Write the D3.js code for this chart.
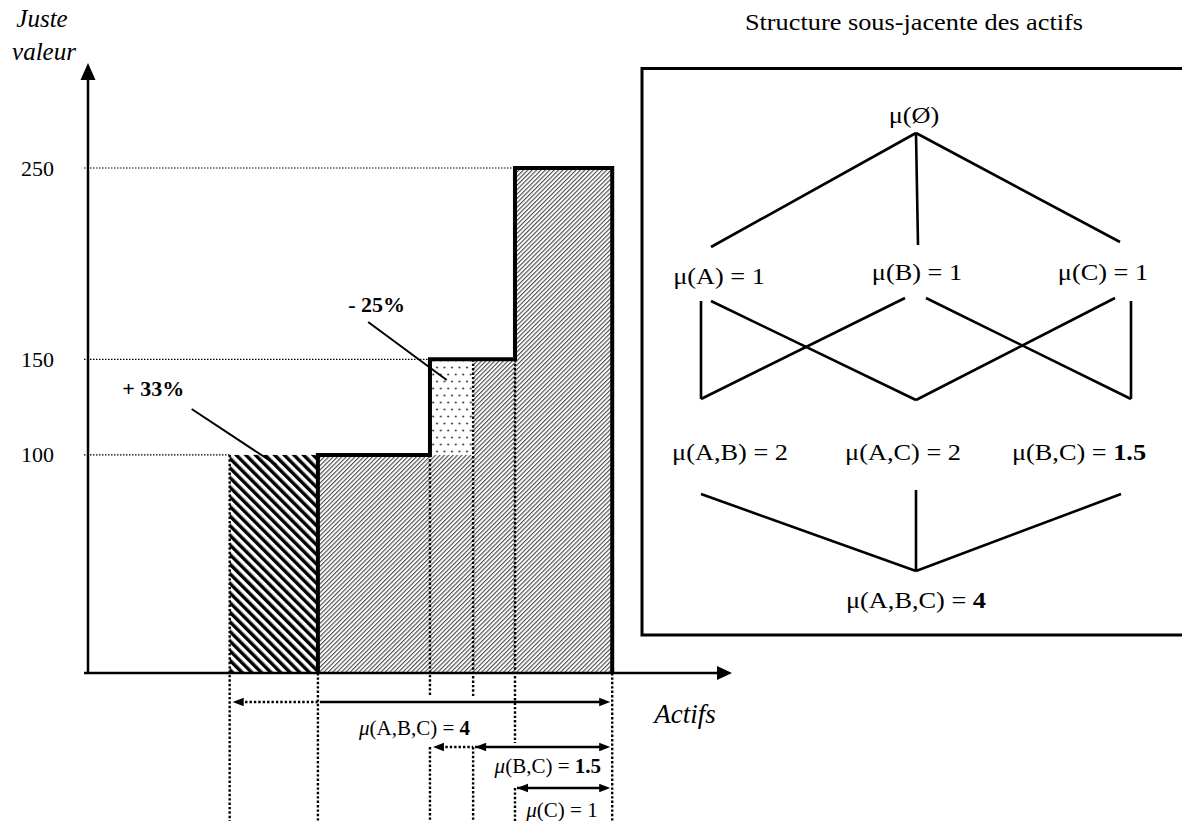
<!DOCTYPE html>
<html><head><meta charset="utf-8">
<script src="https://cdn.jsdelivr.net/npm/d3@7/dist/d3.min.js"></script>
<style>
html,body{margin:0;padding:0;background:#fff;}
svg{display:block;}
text{font-family:"Liberation Serif","Times New Roman",serif;fill:#000;}
</style></head>
<body>
<script>
// ---------- DATA ----------
const yTicks = [100, 150, 250];
// asset positions on a 0..100 abstract "Actifs" axis
const oldBar = {x0: 22, x1: 35.7, v: 100};            // before perturbation (+33%)
const steps = [                                       // fair value steps after perturbation
  {x0: 35.7, x1: 53.1, v: 100},
  {x0: 53.1, x1: 66.3, v: 150},
  {x0: 66.3, x1: 81.4, v: 250}
];
const lostBlock = {x0: 53.1, x1: 59.8, v0: 100, v1: 150}; // -25% dotted block
const guides = [{v: 100, to: 22}, {v: 150, to: 53.1}, {v: 250, to: 66.3}];
const pctLabels = [
  {text: "+ 33%", x: 5.3, v: 131, lx0: 16.1, lv0: 124, lx1: 29.3, lv1: 94.7},
  {text: "- 25%", x: 40.4, v: 174.5, lx0: 43.5, lv0: 169.5, lx1: 55.7, lv1: 139.2}
];
const measures = [
  {name: "μ", set: "(A,B,C) = ", val: "4",   bold: true,  oldFrom: 22,   from: 35.7, to: 81.4, cx: 50.7},
  {name: "μ", set: "(B,C) = ",   val: "1.5", bold: true,  oldFrom: 53.1, from: 59.8, to: 81.4, cx: 71.4},
  {name: "μ", set: "(C) = ",     val: "1",   bold: false, oldFrom: null, from: 66.3, to: 81.4, cx: 73.6}
];
const treeTitle = "Structure sous-jacente des actifs";
const treeRoot = "μ(Ø)";
const treeLevel1 = [{t: "μ(A) = ", v: "1", b: false}, {t: "μ(B) = ", v: "1", b: false}, {t: "μ(C) = ", v: "1", b: false}];
const treeLevel2 = [{t: "μ(A,B) = ", v: "2", b: false}, {t: "μ(A,C) = ", v: "2", b: false}, {t: "μ(B,C) = ", v: "1.5", b: true}];
const treeLevel3 = [{t: "μ(A,B,C) = ", v: "4", b: true}];

// ---------- SETUP ----------
const W = 1182, H = 821;
const svg = d3.select("body").append("svg").attr("width", W).attr("height", H);
const x = d3.scaleLinear().domain([0, 100]).range([88, 732]);
const y = d3.scaleLinear().domain([-14, 250]).range([673, 168]);
const y0 = y(-14);

const defs = svg.append("defs");
const pThick = defs.append("pattern").attr("id", "thick").attr("patternUnits", "userSpaceOnUse")
  .attr("width", 6.8).attr("height", 6.8).attr("patternTransform", "rotate(-45)");
pThick.append("rect").attr("width", 6.8).attr("height", 6.8).attr("fill", "#fff");
pThick.append("rect").attr("width", 3.4).attr("height", 6.8).attr("fill", "#000");
const pFine = defs.append("pattern").attr("id", "fine").attr("patternUnits", "userSpaceOnUse")
  .attr("width", 3.1).attr("height", 3.1).attr("patternTransform", "rotate(45)");
pFine.append("rect").attr("width", 3.1).attr("height", 3.1).attr("fill", "#fff");
pFine.append("rect").attr("width", 1.1).attr("height", 3.1).attr("fill", "#4a4a4a");
const pDots = defs.append("pattern").attr("id", "dots").attr("patternUnits", "userSpaceOnUse")
  .attr("width", 7.5).attr("height", 14);
pDots.append("rect").attr("width", 7.5).attr("height", 14).attr("fill", "#fff");
pDots.append("circle").attr("cx", 2).attr("cy", 3.5).attr("r", 1.1).attr("fill", "#444");
pDots.append("circle").attr("cx", 5.75).attr("cy", 10.5).attr("r", 1.1).attr("fill", "#444");

// ---------- LEFT CHART ----------
svg.append("rect").attr("x", x(oldBar.x0)).attr("y", y(oldBar.v))
  .attr("width", x(oldBar.x1) - x(oldBar.x0)).attr("height", y0 - y(oldBar.v)).attr("fill", "url(#thick)");
svg.selectAll("rect.step").data(steps).join("rect").attr("class", "step")
  .attr("x", d => x(d.x0)).attr("y", d => y(d.v))
  .attr("width", d => x(d.x1) - x(d.x0)).attr("height", d => y0 - y(d.v)).attr("fill", "url(#fine)");
svg.append("rect").attr("x", x(lostBlock.x0)).attr("y", y(lostBlock.v1))
  .attr("width", x(lostBlock.x1) - x(lostBlock.x0)).attr("height", y(lostBlock.v0) - y(lostBlock.v1))
  .attr("fill", "url(#dots)");

svg.selectAll("line.guide").data(guides).join("line").attr("class", "guide")
  .attr("x1", 84).attr("x2", d => x(d.to)).attr("y1", d => y(d.v)).attr("y2", d => y(d.v))
  .attr("stroke", "#000").attr("stroke-width", 1.2).attr("stroke-dasharray", "1.5,1.5");

const rowY = [702, 747, 788];
const vDots = [
  {xv: 22,   segs: [[y(100), H]]},
  {xv: 35.7, segs: [[y0, H]]},
  {xv: 53.1, segs: [[y(100), rowY[0] - 5], [rowY[1], H]]},
  {xv: 59.8, segs: [[y(150), rowY[0] - 5], [rowY[1], H]]},
  {xv: 66.3, segs: [[y(150), rowY[1] - 4], [rowY[2], H]]},
  {xv: 81.4, segs: [[y0, H]]}
];
vDots.forEach(d => d.segs.forEach(s => {
  svg.append("line").attr("x1", x(d.xv)).attr("x2", x(d.xv)).attr("y1", s[0]).attr("y2", s[1])
    .attr("stroke", "#000").attr("stroke-width", 2.4).attr("stroke-dasharray", "2.4,2");
}));

const stepPath = d3.path();
stepPath.moveTo(x(steps[0].x0), y0);
steps.forEach(d => { stepPath.lineTo(x(d.x0), y(d.v)); stepPath.lineTo(x(d.x1), y(d.v)); });
stepPath.lineTo(x(steps[steps.length - 1].x1), y0);
svg.append("path").attr("d", stepPath.toString()).attr("fill", "none")
  .attr("stroke", "#000").attr("stroke-width", 4).attr("stroke-linejoin", "miter");

svg.append("line").attr("x1", 88).attr("x2", 88).attr("y1", y0 + 1).attr("y2", 76)
  .attr("stroke", "#000").attr("stroke-width", 2.5);
svg.append("path").attr("d", "M88,63 L95.5,80 L80.5,80 Z").attr("fill", "#000");
svg.append("line").attr("x1", 84).attr("x2", 720).attr("y1", y0).attr("y2", y0)
  .attr("stroke", "#000").attr("stroke-width", 2.5);
svg.append("path").attr("d", `M732,${y0} L717,${y0 - 7} L717,${y0 + 7} Z`).attr("fill", "#000");

const yAxis = d3.axisLeft(y).tickValues(yTicks).tickSize(0).tickPadding(34).tickFormat(d3.format("d"));
const gy = svg.append("g").attr("transform", "translate(88,0)").call(yAxis);
gy.select(".domain").remove();
gy.selectAll("text").attr("font-family", "Liberation Serif, Times New Roman, serif")
  .attr("font-size", 22).attr("fill", "#000");

svg.append("text").attr("x", 42).attr("y", 27).attr("text-anchor", "middle")
  .attr("font-size", 25).attr("font-style", "italic").text("Juste");
svg.append("text").attr("x", 44).attr("y", 60).attr("text-anchor", "middle")
  .attr("font-size", 25).attr("font-style", "italic").text("valeur");
svg.append("text").attr("x", 685).attr("y", 723).attr("text-anchor", "middle")
  .attr("font-size", 27).attr("font-style", "italic").text("Actifs");

pctLabels.forEach(p => {
  svg.append("text").attr("x", x(p.x)).attr("y", y(p.v)).attr("font-size", 22)
    .attr("font-weight", "bold").text(p.text);
  svg.append("line").attr("x1", x(p.lx0)).attr("y1", y(p.lv0)).attr("x2", x(p.lx1)).attr("y2", y(p.lv1))
    .attr("stroke", "#000").attr("stroke-width", 2);
});

function head(px, py, dir) {
  const L = 11, hw = 4.2;
  svg.append("path").attr("d", `M${px},${py} L${px - dir * L},${py - hw} L${px - dir * L},${py + hw} Z`).attr("fill", "#000");
}
measures.forEach((m, i) => {
  const ry = rowY[i];
  const xs = x(m.from) + 2, xe = x(m.to) - 2;
  svg.append("line").attr("x1", xs).attr("x2", xe - 6).attr("y1", ry).attr("y2", ry)
    .attr("stroke", "#000").attr("stroke-width", 2.5);
  head(xe, ry, 1);
  if (m.oldFrom !== null) {
    const xo = x(m.oldFrom) + 3;
    svg.append("line").attr("x1", xo + 8).attr("x2", x(m.from)).attr("y1", ry).attr("y2", ry)
      .attr("stroke", "#000").attr("stroke-width", 2.4).attr("stroke-dasharray", "2.4,2");
    head(xo, ry, -1);
    if (i > 0) head(xs, ry, -1);
  } else {
    head(xs, ry, -1);
  }
  const t = svg.append("text").attr("x", x(m.cx)).attr("y", ry + [33, 26, 29][i])
    .attr("text-anchor", "middle").attr("font-size", 21);
  t.append("tspan").attr("font-style", "italic").text(m.name);
  t.append("tspan").text(m.set);
  t.append("tspan").attr("font-weight", m.bold ? "bold" : null).text(m.val);
});

// ---------- RIGHT PANEL: lattice ----------
svg.append("rect").attr("x", 642).attr("y", 68.5).attr("width", 560).attr("height", 566.5)
  .attr("fill", "none").attr("stroke", "#000").attr("stroke-width", 3);

function stext(cx, by, parts, size) {
  const t = svg.append("text").attr("transform", `translate(${cx},${by}) scale(1.17,1)`)
    .attr("text-anchor", "middle").attr("font-size", size || 22.5);
  parts.forEach(p => t.append("tspan").attr("font-weight", p.b ? "bold" : null).text(p.s));
  return t;
}
stext(914, 30, [{s: treeTitle}]);
stext(914, 123, [{s: treeRoot}]);

const col = d3.scalePoint().domain([0, 1, 2]).range([701, 1131]);
const l1X = [719, 917, 1103], l1Y = [284, 280, 280];
treeLevel1.forEach((n, i) => stext(l1X[i], l1Y[i], [{s: n.t}, {s: n.v, b: n.b}]));
const l2X = [730, 903, 1079];
treeLevel2.forEach((n, i) => stext(l2X[i], 460, [{s: n.t}, {s: n.v, b: n.b}]));
treeLevel3.forEach(n => stext(916, 608, [{s: n.t}, {s: n.v, b: n.b}]));

const edges = [
  [col(1), 133, col(0) + 10, 247], [col(1), 133, col(1) + 2, 245], [col(1), 133, col(2) - 11, 242],
  [col(0), 301, col(0), 399], [col(1) - 11, 298, col(0), 399],
  [col(0) + 10, 301, col(1), 400], [col(2) - 16, 298, col(1), 400],
  [col(1) + 10, 298, col(2), 399], [col(2), 301, col(2), 399],
  [col(0), 494, col(1), 571], [col(1), 490, col(1), 571], [col(2) - 10, 494, col(1), 571]
];
svg.selectAll("line.edge").data(edges).join("line").attr("class", "edge")
  .attr("x1", d => d[0]).attr("y1", d => d[1]).attr("x2", d => d[2]).attr("y2", d => d[3])
  .attr("stroke", "#000").attr("stroke-width", 2.6);
</script>
</body></html>
